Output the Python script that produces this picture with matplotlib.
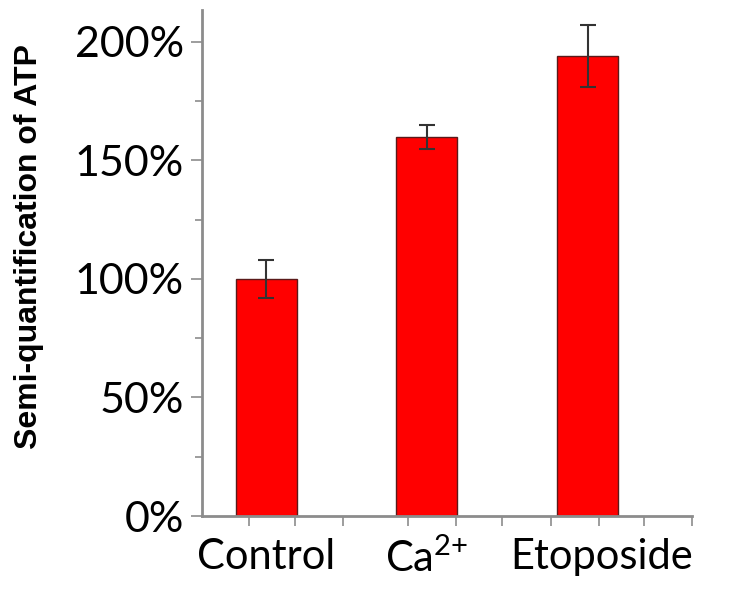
import matplotlib
matplotlib.use("Agg")
import matplotlib.pyplot as plt
import matplotlib.transforms as mtransforms
from matplotlib.ticker import FixedLocator, FuncFormatter

plt.rcParams["mathtext.fontset"] = "custom"
plt.rcParams["mathtext.rm"] = "Lato"
plt.rcParams["mathtext.it"] = "Lato"

categories = ["Control", "Ca$\\mathregular{^{2{+}}}$", "Etoposide"]
values = [100, 160, 194]
errors = [8, 5, 13]
y_ticks = [0, 50, 100, 150, 200]

fig = plt.figure(figsize=(7.44, 5.92), dpi=100)
ax = fig.add_axes([202 / 744, 1 - 516 / 592, (692 - 202) / 744, (516 - 10) / 592])

x = list(range(len(categories)))
ax.bar(x, values, width=0.38, color="#ff0000", edgecolor="#5a1a1a", linewidth=1.0, zorder=2)
ax.errorbar(x, values, yerr=errors, fmt="none", ecolor="#333333", elinewidth=1.5,
            capsize=6, capthick=1.5, zorder=3)

ax.set_xlim(-0.40, 2.65)
ax.set_ylim(0, 213.5)

ax.set_yticks(y_ticks)
ax.yaxis.set_major_formatter(FuncFormatter(lambda v, p: f"{v:.0f}%"))
ax.yaxis.set_minor_locator(FixedLocator([25, 75, 125, 175]))

ax.set_xticks(x)
ax.set_xticklabels(categories)
ax.xaxis.set_minor_locator(FixedLocator([-0.11, 0.18, 0.48, 0.88, 1.18, 1.47, 1.77, 2.07, 2.35, 2.65]))

for s in ["top", "right"]:
    ax.spines[s].set_visible(False)
for s in ["left", "bottom"]:
    ax.spines[s].set_color("#8c8c8c")
    ax.spines[s].set_linewidth(2)

ax.tick_params(axis="y", which="major", direction="out", length=8, width=1.2, color="#8c8c8c",
               labelsize=31, pad=5)
ax.tick_params(axis="y", which="minor", direction="out", length=5, width=1.2, color="#8c8c8c")
ax.tick_params(axis="x", which="major", direction="out", length=0, labelsize=30, pad=16)
ax.tick_params(axis="x", which="minor", direction="out", length=7, width=1.2, color="#8c8c8c")

for lbl in ax.get_yticklabels() + ax.get_xticklabels():
    lbl.set_fontfamily("Lato")

# the last category label sits a little to the right of its bar
last = ax.get_xticklabels()[-1]
last.set_transform(last.get_transform() + mtransforms.ScaledTranslation(0.14, 0, fig.dpi_scale_trans))

ax.set_ylabel("Semi-quantification of ATP", fontsize=23, fontweight="bold",
              family="Liberation Sans")
ax.yaxis.set_label_coords(-0.322, 0.532)

fig.savefig("out.png", dpi=100)
